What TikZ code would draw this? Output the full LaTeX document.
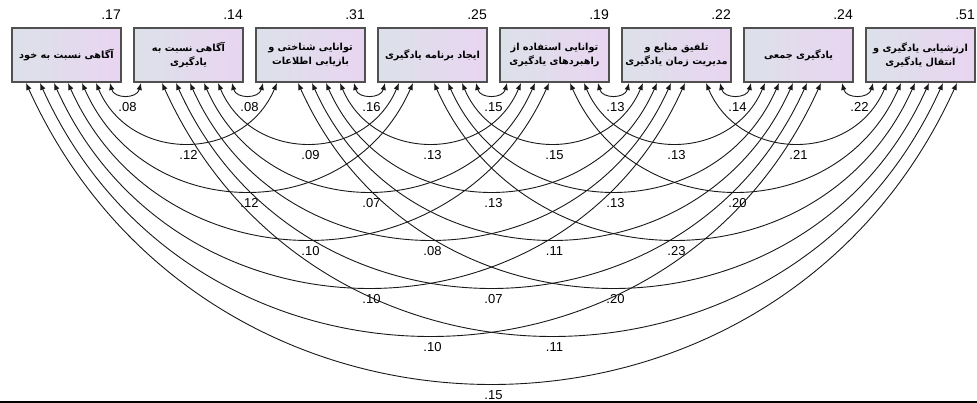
\documentclass[tikz,border=0pt]{standalone}
\usepackage{fontspec}
\setmainfont{Liberation Sans}
\newfontfamily\arabicfont[Script=Arabic]{DejaVu Sans}
\TeXXeTstate=1
\usetikzlibrary{arrows.meta}
\definecolor{boxL}{RGB}{220,225,233}
\definecolor{boxR}{RGB}{233,213,241}
\definecolor{boxborder}{RGB}{80,80,80}
\tikzset{
  boxst/.style={draw=boxborder, line width=1.3pt, left color=boxL, right color=boxR,
    minimum width=109pt, minimum height=54pt, inner sep=0pt, align=center,
    font=\arabicfont\bfseries\fontsize{9.7}{14}\selectfont},
  valst/.style={anchor=base east, inner sep=0pt, font=\fontsize{14}{16}\selectfont},
  labst/.style={inner sep=0.5pt, font=\fontsize{13}{15}\selectfont},
  corr/.style={line width=0.9pt, draw={rgb,255:red,25;green,25;blue,25},
    {Latex[length=7pt,width=5.5pt]}-{Latex[length=7pt,width=5.5pt]}}
}
\begin{document}
\begin{tikzpicture}[x=1pt,y=-1pt]
\useasboundingbox (0,0) rectangle (977,403);
\fill[white] (0,0) rectangle (977,403);
% boxes
\node[boxst] (b1) at ({12+122*0+54.5},55) {\beginR آگاهی نسبت به خود\endR};
\node[boxst] (b2) at ({12+122*1+54.5},55) {\beginR آگاهی نسبت به\endR\\\beginR یادگیری\endR};
\node[boxst] (b3) at ({12+122*2+54.5},55) {\beginR توانایی شناختی و\endR\\\beginR بازیابی اطلاعات\endR};
\node[boxst] (b4) at ({12+122*3+54.5},55) {\beginR ایجاد برنامه یادگیری\endR};
\node[boxst] (b5) at ({12+122*4+54.5},55) {\beginR توانایی استفاده از\endR\\\beginR راهبردهای یادگیری\endR};
\node[boxst] (b6) at ({12+122*5+54.5},55) {\beginR تلفیق منابع و\endR\\\beginR مدیریت زمان یادگیری\endR};
\node[boxst] (b7) at ({12+122*6+54.5},55) {\beginR یادگیری جمعی\endR};
\node[boxst] (b8) at ({12+122*7+54.5},55) {\beginR ارزشیابی یادگیری و\endR\\\beginR انتقال یادگیری\endR};
% values above boxes
\foreach \kk/\vv in {1/.17,2/.14,3/.31,4/.25,5/.19,6/.22,7/.24,8/.51}{
  \node[valst] (v\kk) at ({12+122*(\kk-1)+109},20) {\vv};
}
% arrow end points
\foreach \ii in {1,...,8}{
  \foreach \jj in {1,...,8}{
    \ifnum\ii=\jj\else
      \pgfmathsetmacro\off{ifthenelse(\jj<\ii, 7+14*(\ii-1-\jj), 98-14*(6-((\ii-1)+(8-\jj))))}
      \coordinate (p-\ii-\jj) at ({12+122*(\ii-1)+\off}, 83);
    \fi
  }
}
% correlations
\foreach \ii/\jj/\val in {1/2/.08,2/3/.08,3/4/.16,4/5/.15,5/6/.13,6/7/.14,7/8/.22,
  1/3/.12,2/4/.09,3/5/.13,4/6/.15,5/7/.13,6/8/.21,
  1/4/.12,2/5/.07,3/6/.13,4/7/.13,5/8/.20,
  1/5/.10,2/6/.08,3/7/.11,4/8/.23,
  1/6/.10,2/7/.07,3/8/.20,
  1/7/.10,2/8/.11,
  1/8/.15}{
  \pgfmathsetmacro\dd{\jj-\ii}
  \pgfmathsetmacro\ybot{95+48*(\dd-1)}
  \pgfmathsetmacro\sg{\ybot-83}
  \pgfmathsetmacro\xa{12+122*(\ii-1)+98-14*(6-((\ii-1)+(8-\jj)))}
  \pgfmathsetmacro\xb{12+122*(\jj-1)+7+14*(\jj-1-\ii)}
  \pgfmathsetmacro\cc{\xb-\xa}
  \pgfmathsetmacro\hh{atan(2*\sg/\cc)}
  \pgfmathsetmacro\tta{2*\hh}
  \pgfmathsetmacro\kk{\cc/(3*cos(\hh)^2)}
  \pgfmathsetmacro\kx{\kk*cos(\tta)}
  \pgfmathsetmacro\ky{\kk*sin(\tta)}
  \draw[corr] (p-\ii-\jj) .. controls +(\kx,\ky) and +(-\kx,\ky) .. (p-\jj-\ii);
  \node[labst] (l-\ii-\jj) at ({(\xa+\xb)/2+2},{\ybot+12}) {\val};
}
% bottom rule
\draw[line width=2pt] (0,402) -- (977,402);
\end{tikzpicture}
\end{document}
